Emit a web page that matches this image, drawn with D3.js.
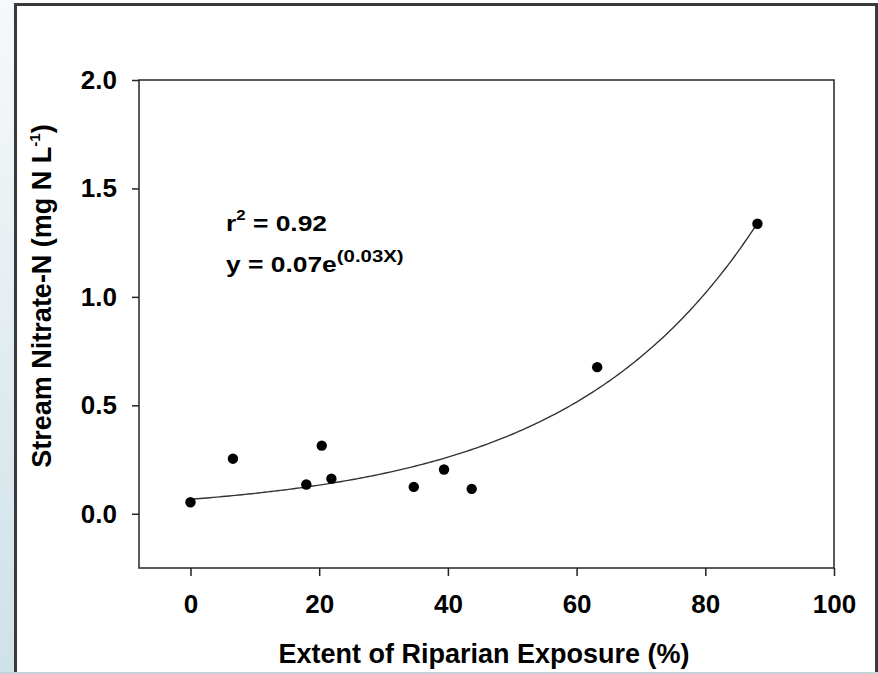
<!DOCTYPE html>
<html>
<head>
<script src='https://d3js.org/d3.v7.min.js'></script>
<style>
body {margin:0; background-color:#ffffff;}
svg text {font-family: Arial, 'Liberation Sans', sans-serif; font-weight:bold; fill:#000;}
</style>
</head>
<body>
<svg id='chart'></svg>

<script>
var W = 878
var H = 674
var margin = {top: 80, right: 44, bottom: 106, left: 139}
var width = 834 - margin.left
var height = 568 - margin.top

// riparian exposure (%) vs stream nitrate-N (mg N/L)
var exposure = [0, 6.6, 18.0, 20.4, 21.9, 34.7, 39.4, 43.7, 63.2, 88.1]
var nitrate = [0.053, 0.254, 0.135, 0.314, 0.162, 0.124, 0.204, 0.115, 0.676, 1.337]
var xTicks = [0, 20, 40, 60, 80, 100]
var yTicks = [0.0, 0.5, 1.0, 1.5, 2.0]
// fitted exponential y = a*e^(b*x), drawn over the range of the data
var fitA = 0.067
var fitB = 0.034

var svg = d3.select('#chart').attr('width', W).attr('height', H)

// left light blue strip
var grad = svg.append('defs').append('linearGradient')
    .attr('id', 'side').attr('x1', 0).attr('y1', 0).attr('x2', 0).attr('y2', 1)
grad.append('stop').attr('offset', '0%').attr('stop-color', '#f6f9fb')
grad.append('stop').attr('offset', '100%').attr('stop-color', '#cfe1e9')
svg.append('rect').attr('x', 0).attr('y', 0).attr('width', 14).attr('height', H).attr('fill', 'url(#side)')

// bottom light line
svg.append('rect').attr('x', 0).attr('y', 672).attr('width', W).attr('height', 2).attr('fill', '#c6d3d9')

// outer frame
svg.append('path')
    .attr('d', 'M15.5,672 V4.5 H876.5 V672')
    .attr('fill', 'none').attr('stroke', '#3a3a3a').attr('stroke-width', 3)

var x = d3.scaleLinear().domain([-8, 100]).range([0, width])
var y = d3.scaleLinear().domain([-0.25, 2.0]).range([height, 0])

var g = svg.append('g').attr('transform', 'translate(' + margin.left + ',' + margin.top + ')')

// plot box
g.append('rect')
    .attr('x', 0).attr('y', 0).attr('width', width).attr('height', height)
    .attr('fill', 'none').attr('stroke', '#333').attr('stroke-width', 1.6)

//x axis
var xAxis = g.append('g')
    .attr('transform', 'translate(0,' + height + ')')
    .call(d3.axisBottom(x).tickValues(xTicks).tickSize(8).tickPadding(19).tickSizeOuter(0))
xAxis.select('.domain').remove()
xAxis.selectAll('line').attr('stroke', '#222').attr('stroke-width', 1.5)
xAxis.selectAll('text').style('font-size', '26px')

//y axis
var yAxis = g.append('g')
    .call(d3.axisLeft(y).tickValues(yTicks).tickFormat(d3.format('.1f')).tickSize(7).tickPadding(15).tickSizeOuter(0))
yAxis.select('.domain').remove()
yAxis.selectAll('line').attr('stroke', '#222').attr('stroke-width', 1.5)
yAxis.selectAll('text').style('font-size', '26px')

// fit curve
var curveX = d3.range(0, d3.max(exposure) + 0.01, 0.5)
var line = d3.line().x(function(d) {return x(d);}).y(function(d) {return y(fitA * Math.exp(fitB * d));})
g.append('path')
    .datum(curveX)
    .attr('d', line)
    .attr('fill', 'none').attr('stroke', '#333').attr('stroke-width', 1.4)

// points
g.selectAll('circle')
    .data(exposure)
    .enter()
    .append('circle')
    .attr('cx', function(d) {return x(d);})
    .attr('cy', function(d, i) {return y(nitrate[i]);})
    .attr('r', 5.2)
    .attr('fill', '#000')

// annotation
var ann = svg.append('g').attr('transform', 'translate(226,0) scale(1.2,1)')
var t1 = ann.append('text').attr('x', 0).attr('y', 231).style('font-size', '22px')
t1.append('tspan').text('r')
t1.append('tspan').attr('dy', -11).style('font-size', '14px').text('2')
t1.append('tspan').attr('dy', 11).text(' = 0.92')
var t2 = ann.append('text').attr('x', 0).attr('y', 272).style('font-size', '22px')
t2.append('tspan').text('y = 0.07e')
t2.append('tspan').attr('dy', -10).style('font-size', '17px').text('(0.03X)')

//x axis label
svg.append('text')
    .attr('text-anchor', 'middle')
    .attr('x', 484)
    .attr('y', 663)
    .style('font-size', '27px')
    .text('Extent of Riparian Exposure (%)')

//y axis label
var yl = svg.append('text')
    .attr('text-anchor', 'middle')
    .attr('transform', 'translate(51,296) rotate(-90)')
    .style('font-size', '27px')
yl.append('tspan').text('Stream Nitrate-N (mg N L')
yl.append('tspan').attr('dy', -11).style('font-size', '15px').text('-1')
yl.append('tspan').attr('dy', 11).text(')')
</script>

</body>
</html>
